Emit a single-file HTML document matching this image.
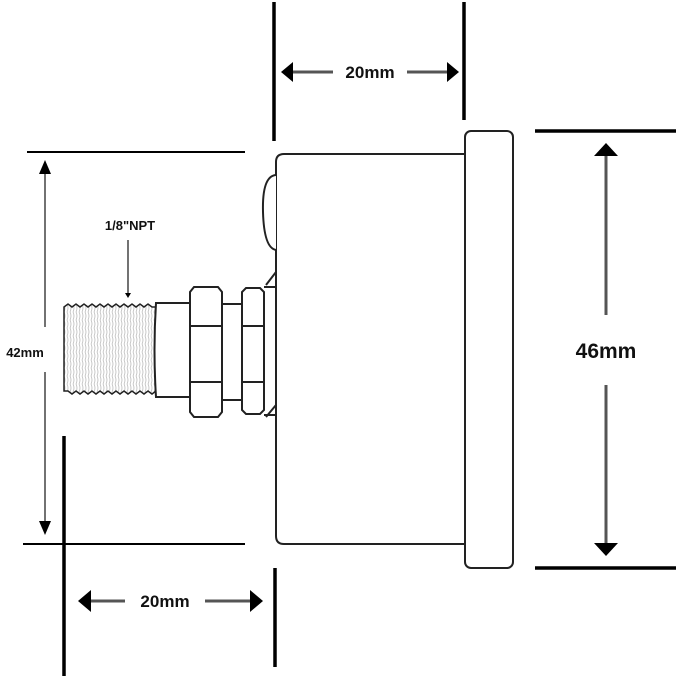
<!DOCTYPE html>
<html><head><meta charset="utf-8"><style>
html,body{margin:0;padding:0;background:#fff;width:679px;height:678px;overflow:hidden}
svg{display:block}
text{font-family:"Liberation Sans",sans-serif;font-weight:bold;fill:#111}
</style></head><body>
<svg width="679" height="678" viewBox="0 0 679 678" xmlns="http://www.w3.org/2000/svg">
<defs>
<pattern id="thr" width="6" height="8" patternUnits="userSpaceOnUse">
<path d="M1 0 Q3 4 1 8 M4 0 Q6 4 4 8" stroke="#bbb" stroke-width="0.8" fill="none"/>
</pattern>
</defs>
<!-- extension lines -->
<g stroke="#000" stroke-width="3.5" fill="none">
<line x1="274" y1="2" x2="274" y2="141"/>
<line x1="464" y1="2" x2="464" y2="120"/>
<line x1="64" y1="436" x2="64" y2="676"/>
<line x1="275" y1="568" x2="275" y2="667"/>
<line x1="535" y1="131" x2="676" y2="131"/>
<line x1="535" y1="568" x2="676" y2="568"/>
</g>
<g stroke="#000" stroke-width="2" fill="none">
<line x1="27" y1="152" x2="245" y2="152"/>
<line x1="23" y1="544" x2="245" y2="544"/>
</g>
<!-- dimension arrows -->
<g stroke="#555" stroke-width="3" fill="none">
<line x1="290" y1="72" x2="333" y2="72"/>
<line x1="407" y1="72" x2="450" y2="72"/>
<line x1="88" y1="601" x2="125" y2="601"/>
<line x1="205" y1="601" x2="253" y2="601"/>
<line x1="606" y1="155" x2="606" y2="315"/>
<line x1="606" y1="385" x2="606" y2="545"/>
</g>
<g stroke="#444" stroke-width="1.5">
<line x1="45" y1="172" x2="45" y2="327"/>
<line x1="45" y1="372" x2="45" y2="525"/>
<line x1="128" y1="240" x2="128" y2="294"/>
</g>
<g fill="#000">
<polygon points="281,72 293,62 293,82"/>
<polygon points="459,72 447,62 447,82"/>
<polygon points="78,601 91,590 91,612"/>
<polygon points="263,601 250,590 250,612"/>
<polygon points="606,143 594,156 618,156"/>
<polygon points="606,556 594,543 618,543"/>
<polygon points="45,160 39,174 51,174"/>
<polygon points="45,535 39,521 51,521"/>
<polygon points="128,298 125,293 131,293"/>
</g>
<!-- body -->
<g stroke="#222" stroke-width="2" fill="#fff">
<path d="M466 154 L284 154 Q276 154 276 162 L276 536 Q276 544 284 544 L466 544"/>
<rect x="465" y="131" width="48" height="437" rx="6"/>
<path d="M276 175 Q262 176 263 212 Q264 248 276 250"/>
<path d="M276 272 L266 285"/>
<path d="M276 405 L266 417"/>
</g>
<!-- fitting -->
<g stroke="#222" stroke-width="2">
<path d="M64 307 l4 -3 l4 3 l4 -3 l4 3 l4 -3 l4 3 l4 -3 l4 3 l4 -3 l4 3 l4 -3 l4 3 l4 -3 l4 3 l4 -3 l4 3 l4 -3 l4 3 l4 -3 l4 3 l4 -3 l4 3 L156 307 L156 391 l-4 3 l-4 -3 l-4 3 l-4 -3 l-4 3 l-4 -3 l-4 3 l-4 -3 l-4 3 l-4 -3 l-4 3 l-4 -3 l-4 3 l-4 -3 l-4 3 l-4 -3 l-4 3 l-4 -3 l-4 3 l-4 -3 l-4 3 l-4 -3 L64 391 Z" fill="url(#thr)" stroke-width="1.5"/>
<path d="M156 303 L190 303 L190 397 L156 397 Q153 350 156 303 Z" fill="#fff"/>
<rect x="222" y="304" width="20" height="96" fill="#fff"/>
<path d="M194 287 L218 287 L222 292 L222 412 L218 417 L194 417 L190 412 L190 292 Z" fill="#fff"/>
<line x1="190" y1="326" x2="222" y2="326"/>
<line x1="190" y1="382" x2="222" y2="382"/>
<path d="M246 288 L260 288 L264 292 L264 410 L260 414 L246 414 L242 410 L242 292 Z" fill="#fff"/>
<line x1="242" y1="326" x2="264" y2="326"/>
<line x1="242" y1="382" x2="264" y2="382"/>
<path d="M264 287 L276 287 M264 415 L276 415" fill="none"/>
</g>
<!-- labels -->
<text x="370" y="78" font-size="17" text-anchor="middle">20mm</text>
<text x="165" y="607" font-size="17" text-anchor="middle">20mm</text>
<text x="606" y="358" font-size="21" text-anchor="middle">46mm</text>
<text x="25" y="357" font-size="13" text-anchor="middle">42mm</text>
<text x="130" y="230" font-size="13" text-anchor="middle">1/8"NPT</text>
</svg>
</body></html>
